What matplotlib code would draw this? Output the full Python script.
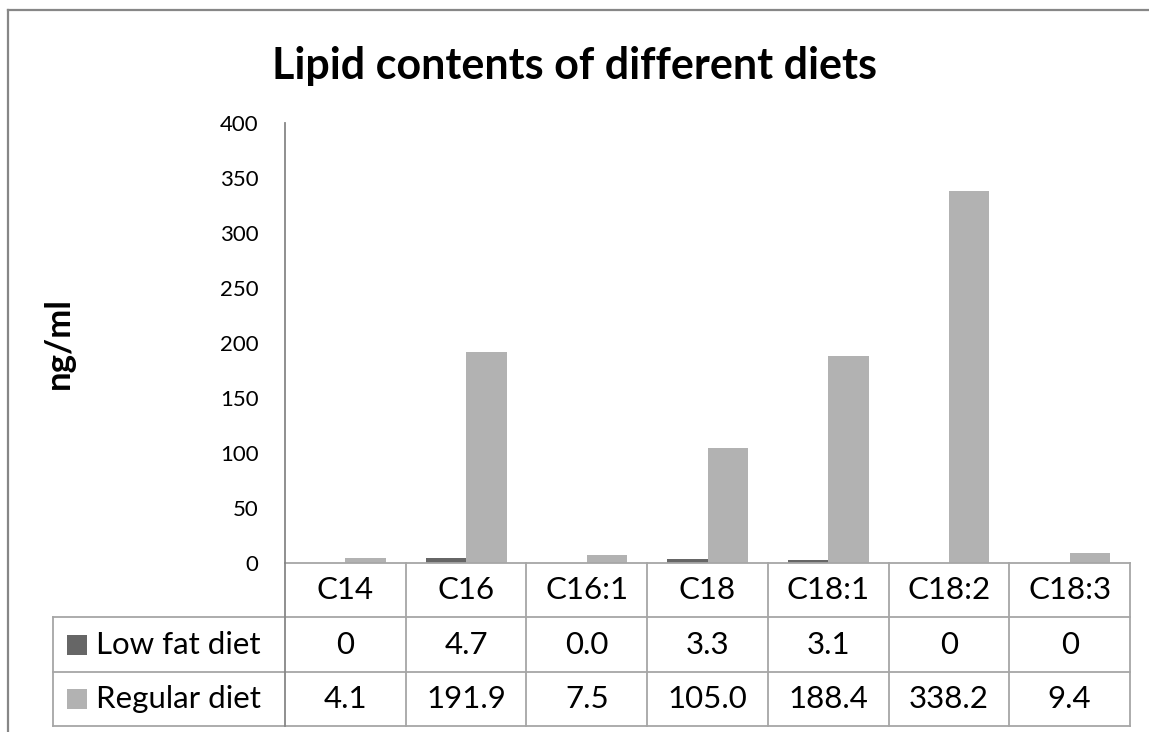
import numpy as np
import matplotlib
matplotlib.use('Agg')
import matplotlib.pyplot as plt
from matplotlib.lines import Line2D
from matplotlib.transforms import blended_transform_factory

plt.rcParams['font.family'] = ['Lato', 'DejaVu Sans']

# ── Data ──────────────────────────────────────────────────────
categories = ['C14', 'C16', 'C16:1', 'C18', 'C18:1', 'C18:2', 'C18:3']
low_fat = [0, 4.7, 0.0, 3.3, 3.1, 0, 0]
regular = [4.1, 191.9, 7.5, 105.0, 188.4, 338.2, 9.4]
low_fat_labels = ['0', '4.7', '0.0', '3.3', '3.1', '0', '0']
regular_labels = ['4.1', '191.9', '7.5', '105.0', '188.4', '338.2', '9.4']
series_names = ['Low fat diet', 'Regular diet']
y_ticks = [0, 50, 100, 150, 200, 250, 300, 350, 400]

C_LOW = '#666666'
C_REG = '#B2B2B2'
C_GRID = '#A6A6A6'
C_AXIS = '#878787'

W, H = 1149, 732
fig = plt.figure(figsize=(W / 100, H / 100), dpi=100, facecolor='white')

# axes box in pixels: x 285..1130, y 123..563
ax = fig.add_axes([285 / W, 1 - 563 / H, (1130 - 285) / W, (563 - 123) / H])

x = np.arange(len(categories))
bw = 0.335
ax.bar(x - bw / 2, low_fat, bw, color=C_LOW)
ax.bar(x + bw / 2, regular, bw, color=C_REG)

ax.set_xlim(-0.5, len(categories) - 0.5)
ax.set_ylim(0, 400)
ax.set_yticks(y_ticks)
ax.set_xticks([])
ax.tick_params(axis='y', length=0, pad=19, labelsize=16)
for s in ['top', 'right', 'bottom']:
    ax.spines[s].set_visible(False)
ax.spines['left'].set_color(C_AXIS)
ax.spines['left'].set_linewidth(1.3)

ax.set_ylabel('ng/ml', fontsize=25, fontweight='bold')
ax.yaxis.set_label_coords(-0.249, 0.5)

# ── Data table below the axis ────────────────────────────────
tr = blended_transform_factory(ax.transData, ax.transAxes)
row_h = 54.4 / 440
rows_y = [0, -row_h, -2 * row_h, -3 * row_h]
left_x = -0.5 - (285 - 53) / 120.8
n = len(categories)

def hline(x0, x1, y):
    ax.add_line(Line2D([x0, x1], [y, y], transform=tr, color=C_GRID,
                       lw=1.3, clip_on=False))

def vline(xx, y0, y1, color=C_GRID):
    ax.add_line(Line2D([xx, xx], [y0, y1], transform=tr, color=color,
                       lw=1.3, clip_on=False))

hline(-0.5, n - 0.5, rows_y[0])
for yy in rows_y[1:]:
    hline(left_x, n - 0.5, yy)
for i in range(1, n + 1):
    vline(i - 0.5, rows_y[0], rows_y[3])
vline(-0.5, rows_y[0], rows_y[3], color=C_AXIS)
vline(left_x, rows_y[1], rows_y[3])

fs_tab = 22.5
for i, cat in enumerate(categories):
    ax.text(i, (rows_y[0] + rows_y[1]) / 2, cat, transform=tr,
            ha='center', va='center', fontsize=fs_tab)
    ax.text(i, (rows_y[1] + rows_y[2]) / 2, low_fat_labels[i], transform=tr,
            ha='center', va='center', fontsize=fs_tab)
    ax.text(i, (rows_y[2] + rows_y[3]) / 2, regular_labels[i], transform=tr,
            ha='center', va='center', fontsize=fs_tab)

for k, (name, col) in enumerate(zip(series_names, [C_LOW, C_REG])):
    yc = (rows_y[k + 1] + rows_y[k + 2]) / 2
    ax.plot([left_x + 23.5 / 120.8], [yc], marker='s', ms=15, color=col,
            transform=tr, clip_on=False, mew=0)
    ax.text(left_x + 43 / 120.8, yc, name, transform=tr,
            ha='left', va='center', fontsize=fs_tab)

# ── Title and chart frame ────────────────────────────────────
fig.text(575 / W, 1 - 66 / H, 'Lipid contents of different diets',
         ha='center', va='center', fontsize=31, fontweight='bold')

fig.add_artist(Line2D([8 / W, 8 / W], [0, 1 - 10 / H], color=C_AXIS, lw=1.6,
                      transform=fig.transFigure))
fig.add_artist(Line2D([8 / W, 1], [1 - 10 / H, 1 - 10 / H], color=C_AXIS,
                      lw=1.6, transform=fig.transFigure))

fig.savefig('out.png', dpi=100, facecolor='white')
